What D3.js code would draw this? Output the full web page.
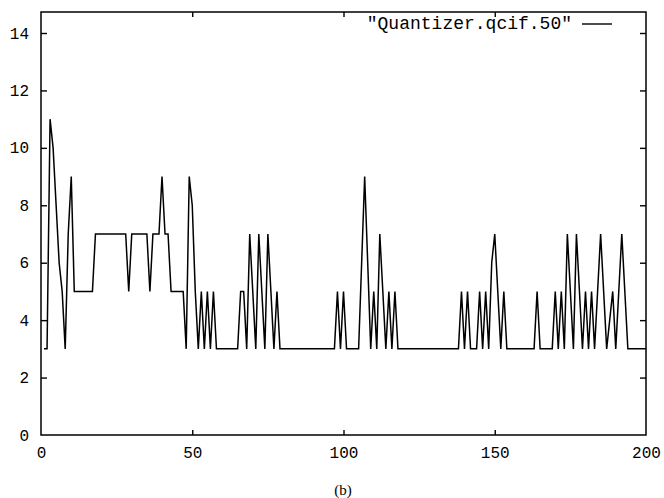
<!DOCTYPE html>
<html>
<head>
<meta charset="utf-8">
<script src="https://cdn.jsdelivr.net/npm/d3@7"></script>
<style>
  html, body { margin: 0; padding: 0; background: #fff; }
  svg { display: block; }
</style>
</head>
<body>
<svg id="chart" width="664" height="498"></svg>
<script>
// ---- data ----
const seriesName = '"Quantizer.qcif.50"';
const frameStart = 1;
const quantizer = [
  3,3,11,10,8,6,5,3,7,9,
  5,5,5,5,5,5,5,7,7,7,
  7,7,7,7,7,7,7,7,5,7,
  7,7,7,7,7,5,7,7,7,9,
  7,7,5,5,5,5,5,3,9,8,
  5,3,5,3,5,3,5,3,3,3,
  3,3,3,3,3,5,5,3,7,5,
  3,7,5,3,7,5,3,5,3,3,
  3,3,3,3,3,3,3,3,3,3,
  3,3,3,3,3,3,3,5,3,5,
  3,3,3,3,3,6,9,6,3,5,
  3,7,5,3,5,3,5,3,3,3,
  3,3,3,3,3,3,3,3,3,3,
  3,3,3,3,3,3,3,3,5,3,
  5,3,3,3,5,3,5,3,6,7,
  5,3,5,3,3,3,3,3,3,3,
  3,3,3,5,3,3,3,3,3,5,
  3,5,3,7,5,3,7,5,3,5,
  3,5,3,5,7,5,3,4,5,3,
  5,7,5,3,3,3,3,3,3,3
];
const xTickValues = [0, 50, 100, 150, 200];
const yTickValues = [0, 2, 4, 6, 8, 10, 12, 14];
const caption = "(b)";

// ---- layout ----
const pLeft = 41, pRight = 646, pTop = 12, pBottom = 435;
const svg = d3.select("#chart");

const x = d3.scaleLinear().domain([0, 200]).range([pLeft, pRight]);
const y = d3.scaleLinear().domain([0, 14]).range([pBottom, 33]);

const data = quantizer.map((v, i) => ({ f: frameStart + i, q: v }));

// frame
svg.append("rect")
  .attr("x", pLeft).attr("y", pTop)
  .attr("width", pRight - pLeft).attr("height", pBottom - pTop)
  .attr("fill", "none").attr("stroke", "#000").attr("stroke-width", 1.5);

const monoFont = "'Liberation Mono', 'DejaVu Sans Mono', monospace";

const yAxisL = svg.append("g").attr("transform", `translate(${pLeft},0)`)
  .call(d3.axisLeft(y).tickValues(yTickValues).tickSize(-6).tickPadding(12).tickFormat(d3.format("d")));
const yAxisR = svg.append("g").attr("transform", `translate(${pRight},0)`)
  .call(d3.axisRight(y).tickValues(yTickValues.filter(d => d > 0)).tickSize(-6).tickFormat(""));
const xAxisB = svg.append("g").attr("transform", `translate(0,${pBottom})`)
  .call(d3.axisBottom(x).tickValues(xTickValues).tickSize(-5).tickPadding(12).tickFormat(d3.format("d")));
const xAxisT = svg.append("g").attr("transform", `translate(0,${pTop})`)
  .call(d3.axisTop(x).tickValues(xTickValues.filter(d => d > 0 && d < 200)).tickSize(-5).tickFormat(""));

[yAxisL, yAxisR, xAxisB, xAxisT].forEach(g => {
  g.select(".domain").remove();
  g.selectAll(".tick line").attr("stroke", "#000").attr("stroke-width", 1.4);
  g.selectAll(".tick text")
    .attr("fill", "#000")
    .style("font-family", monoFont)
    .style("font-size", "16px");
});
yAxisL.selectAll(".tick line").filter(d => d === 0).remove();
xAxisB.selectAll(".tick line").filter(d => d === 0 || d === 200).remove();

// line
const line = d3.line().x(d => x(d.f)).y(d => y(d.q));
svg.append("path")
  .datum(data)
  .attr("d", line)
  .attr("fill", "none")
  .attr("stroke", "#000")
  .attr("stroke-width", 1.5)
  .attr("stroke-linejoin", "miter");

// legend
svg.append("text")
  .attr("x", 572).attr("y", 29)
  .attr("text-anchor", "end")
  .style("font-family", monoFont)
  .style("font-size", "18px")
  .attr("fill", "#000")
  .text(seriesName);
svg.append("line")
  .attr("x1", 582).attr("x2", 612)
  .attr("y1", 24).attr("y2", 24)
  .attr("stroke", "#000").attr("stroke-width", 1.4);

// caption
svg.append("text")
  .attr("x", 343).attr("y", 495)
  .attr("text-anchor", "middle")
  .style("font-family", "'Liberation Serif', 'DejaVu Serif', serif")
  .style("font-size", "15px")
  .attr("fill", "#000")
  .text(caption);
</script>
</body>
</html>
